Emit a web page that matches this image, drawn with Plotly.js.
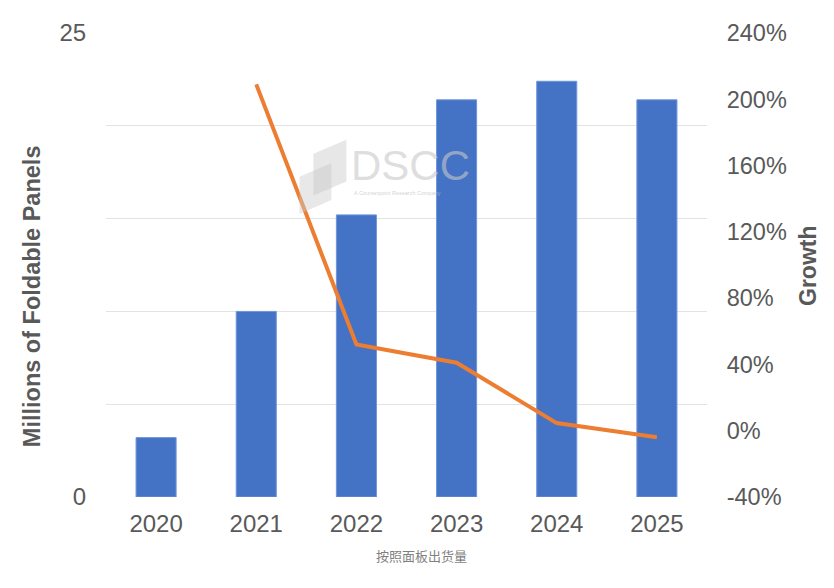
<!DOCTYPE html>
<html>
<head>
<meta charset="utf-8">
<script src="https://cdn.plot.ly/plotly-3.0.1.min.js"></script>
<style>html,body{margin:0;padding:0;background:#fff;}#chart{width:834px;height:588px;}</style>
</head>
<body>
<div id="chart"></div>
<script>
const years = ['2020', '2021', '2022', '2023', '2024', '2025'];
const panels = [3.2, 10.0, 15.2, 21.4, 22.4, 21.4];
const growthYears = ['2021', '2022', '2023', '2024', '2025'];
const growth = [209, 52, 41, 4.6, -4];
const leftTickVals = [0, 5, 10, 15, 20, 25];
const leftTickText = ['0', '', '', '', '', '25'];
const rightTickVals = [-40, 0, 40, 80, 120, 160, 200, 240];
const rightTickText = ['-40%', '0%', '40%', '80%', '120%', '160%', '200%', '240%'];

const grey = '#595959';
const font = 'Liberation Sans, Arial, sans-serif';

const traces = [
  {
    type: 'bar', x: years, y: panels, name: 'Panels',
    marker: {color: '#4472C4', line: {color: '#6f95dc', width: 1}},
    hoverinfo: 'x+y'
  },
  {
    type: 'scatter', mode: 'lines', x: growthYears, y: growth, name: 'Growth',
    yaxis: 'y2', line: {color: '#ED7D31', width: 4}
  }
];

const layout = {
  width: 834, height: 588,
  margin: {l: 106, r: 127, t: 33, b: 91},
  paper_bgcolor: '#fff', plot_bgcolor: '#fff',
  showlegend: false,
  bargap: 0.6,
  font: {family: font, color: grey, size: 20},
  xaxis: {
    type: 'category', showgrid: false, zeroline: false, showline: false,
    ticks: 'outside', ticklen: 5, tickcolor: 'rgba(0,0,0,0)',
    tickfont: {size: 24, color: grey}
  },
  yaxis: {
    range: [0, 25], tickvals: leftTickVals, ticktext: leftTickText,
    showgrid: true, gridcolor: '#e3e3e3', gridwidth: 1, zeroline: false,
    ticks: 'outside', ticklen: 14, tickcolor: 'rgba(0,0,0,0)',
    tickfont: {size: 24, color: grey}
  },
  yaxis2: {
    overlaying: 'y', side: 'right', range: [-40, 240],
    tickvals: rightTickVals, ticktext: rightTickText,
    showgrid: false, zeroline: false,
    ticks: 'outside', ticklen: 14, tickcolor: 'rgba(0,0,0,0)',
    tickfont: {size: 23.5, color: grey}
  },
  annotations: [
    {xref: 'paper', yref: 'paper', x: -0.123, y: 0.433, xanchor: 'center', yanchor: 'middle',
     text: '<b>Millions of Foldable Panels</b>', textangle: -90, showarrow: false,
     font: {family: font, size: 23.5, color: grey}},
    {xref: 'paper', yref: 'paper', x: 1.168, y: 0.5, xanchor: 'center', yanchor: 'middle',
     text: '<b>Growth</b>', textangle: -90, showarrow: false,
     font: {family: font, size: 23, color: grey}},
    {xref: 'paper', yref: 'paper', x: 0.525, y: -0.127, xanchor: 'center', yanchor: 'middle',
     text: '按照面板出货量', showarrow: false,
     font: {family: 'Noto Sans CJK SC, sans-serif', size: 13, color: '#7f7f7f'}},
    {xref: 'paper', yref: 'paper', x: 0.405, y: 0.715, xanchor: 'left', yanchor: 'middle',
     text: 'DSCC', showarrow: false,
     font: {family: font, size: 42, color: 'rgba(200,200,200,0.6)'}},
    {xref: 'paper', yref: 'paper', x: 0.41, y: 0.655, xanchor: 'left', yanchor: 'middle',
     text: 'A Counterpoint Research Company', showarrow: false,
     font: {family: font, size: 5.5, color: 'rgba(190,190,190,0.7)'}}
  ],
  shapes: [
    {type: 'path', xref: 'paper', yref: 'paper',
     path: 'M 0.322 0.69 L 0.375 0.72 L 0.375 0.64 L 0.322 0.61 Z',
     fillcolor: 'rgba(205,205,205,0.45)', line: {width: 0}},
    {type: 'path', xref: 'paper', yref: 'paper',
     path: 'M 0.345 0.74 L 0.4 0.77 L 0.4 0.68 L 0.345 0.65 Z',
     fillcolor: 'rgba(195,195,195,0.4)', line: {width: 0}}
  ]
};

Plotly.newPlot('chart', traces, layout, {displayModeBar: false, staticPlot: true});
</script>
</body>
</html>
